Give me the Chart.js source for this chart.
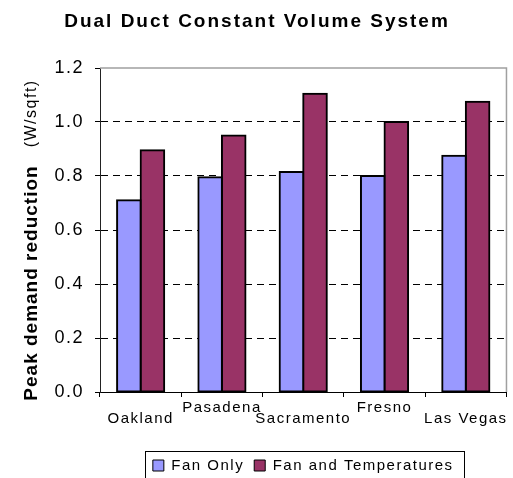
<!DOCTYPE html>
<html>
<head>
<meta charset="utf-8">
<script src="https://cdn.jsdelivr.net/npm/chart.js@4.4.1/dist/chart.umd.min.js"></script>
<style>
  html, body { margin: 0; padding: 0; background: #fff; overflow: hidden; }
  #wrap { width: 513px; height: 483px; position: relative; }
</style>
</head>
<body>
<div id="wrap"><canvas id="chart"></canvas></div>
<script>
const cities = ['Oakland', 'Pasadena', 'Sacramento', 'Fresno', 'Las Vegas'];
const fanOnly = [0.71, 0.795, 0.815, 0.80, 0.875];
const fanAndTemp = [0.895, 0.95, 1.105, 1.0, 1.075];
const yTicks = [0.0, 0.2, 0.4, 0.6, 0.8, 1.0, 1.2];
const chartTitle = 'Dual Duct Constant Volume System';
const yTitleMain = 'Peak demand reduction';
const yTitleUnit = '(W/sqft)';

const FONT = '"Liberation Sans", Arial, sans-serif';

// excel-ish wide letter spacing for all canvas text
const spacing = {
    id: 'spacing',
    beforeUpdate(chart) { chart.ctx.letterSpacing = '1.5px'; },
    beforeDraw(chart) { chart.ctx.letterSpacing = '1.5px'; }
};

// title, rotated axis title (mixed weights), plot frame, legend frame
const decor = {
    id: 'decor',
    beforeDatasetsDraw(chart) {
        const { ctx, chartArea: a } = chart;
        ctx.save();
        ctx.strokeStyle = '#a0a0a0';
        ctx.lineWidth = 1.5;
        ctx.beginPath();
        ctx.moveTo(a.left, a.top);
        ctx.lineTo(a.right, a.top);
        ctx.lineTo(a.right, a.bottom);
        ctx.stroke();
        ctx.restore();
    },
    afterDraw(chart) {
        const ctx = chart.ctx;
        ctx.save();
        ctx.fillStyle = '#000';
        ctx.textBaseline = 'middle';

        ctx.letterSpacing = '2px';
        ctx.font = 'bold 19px ' + FONT;
        ctx.textAlign = 'center';
        ctx.fillText(chartTitle, 256 + 1, 22);

        ctx.translate(32, 240);
        ctx.rotate(-Math.PI / 2);
        ctx.textAlign = 'left';
        ctx.letterSpacing = '1px';
        ctx.font = 'bold 19px ' + FONT;
        const w1 = ctx.measureText(yTitleMain).width;
        ctx.letterSpacing = '1.5px';
        ctx.font = '16px ' + FONT;
        const w2 = ctx.measureText(yTitleUnit).width;
        const gap = 18;
        const start = -(w1 + gap + w2) / 2;
        ctx.letterSpacing = '1px';
        ctx.font = 'bold 19px ' + FONT;
        ctx.fillText(yTitleMain, start, 0);
        ctx.letterSpacing = '1.5px';
        ctx.font = '16px ' + FONT;
        ctx.fillText(yTitleUnit, start + w1 + gap, 0);
        ctx.restore();

        const boxes = chart.legend.legendHitBoxes;
        if (boxes && boxes.length) {
            const l = Math.min(...boxes.map(b => b.left)) - 8;
            const r = Math.max(...boxes.map(b => b.left + b.width)) + 10;
            const cy = boxes[0].top + boxes[0].height / 2;
            ctx.save();
            ctx.strokeStyle = '#000';
            ctx.lineWidth = 1;
            ctx.strokeRect(Math.round(l) + 0.5, Math.round(cy - 15) + 0.5, Math.round(r - l), 40);
            ctx.restore();
        }
    }
};

new Chart(document.getElementById('chart'), {
    type: 'bar',
    data: {
        labels: cities,
        datasets: [
            {
                label: 'Fan Only',
                data: fanOnly,
                backgroundColor: '#9999ff',
                borderColor: '#000',
                borderWidth: 2,
                borderSkipped: false,
                inflateAmount: 1
            },
            {
                label: 'Fan and Temperatures',
                data: fanAndTemp,
                backgroundColor: '#993366',
                borderColor: '#000',
                borderWidth: 2,
                borderSkipped: false,
                inflateAmount: 1
            }
        ]
    },
    options: {
        responsive: true,
        maintainAspectRatio: false,
        animation: false,
        datasets: { bar: { categoryPercentage: 0.58, barPercentage: 1.0 } },
        layout: { padding: { top: 68, right: 4, left: 0, bottom: 0 } },
        plugins: {
            title: { display: false },
            tooltip: { enabled: false },
            legend: {
                position: 'bottom',
                fullSize: false,
                labels: {
                    color: '#000',
                    font: { family: FONT, size: 15 },
                    boxWidth: 11,
                    boxHeight: 11,
                    padding: 10,
                    generateLabels(chart) {
                        const items = Chart.defaults.plugins.legend.labels.generateLabels(chart);
                        items.forEach(it => { it.lineWidth = 1; });
                        return items;
                    }
                }
            }
        },
        scales: {
            x: {
                grid: {
                    offset: true,
                    drawOnChartArea: false,
                    drawTicks: true,
                    tickLength: 5,
                    tickColor: '#000'
                },
                border: { color: '#000', width: 1 },
                ticks: {
                    color: '#000',
                    padding: 5,
                    maxRotation: 0,
                    autoSkip: false,
                    font: { family: FONT, size: 15, lineHeight: 0.75 },
                    callback(v, i) {
                        const name = cities[i];
                        return i % 2 === 0 ? ['', name] : name;
                    }
                },
                afterFit(scale) { scale.height = 56; }
            },
            y: {
                min: 0,
                max: 1.2,
                afterBuildTicks(scale) { scale.ticks = yTicks.map(v => ({ value: v })); },
                grid: {
                    color: c => (c.tick && (c.tick.value === 0 || c.tick.value === 1.2)) ? 'rgba(0,0,0,0)' : '#000',
                    lineWidth: 1,
                    tickLength: 5,
                    tickColor: '#000'
                },
                border: { color: '#222', width: 1, dash: [7, 5] },
                ticks: {
                    color: '#000',
                    padding: 11,
                    font: { family: FONT, size: 18 },
                    callback: v => Number(v).toFixed(1)
                },
                afterFit(scale) { scale.width = 100; }
            }
        }
    },
    plugins: [spacing, decor]
});
</script>
</body>
</html>
